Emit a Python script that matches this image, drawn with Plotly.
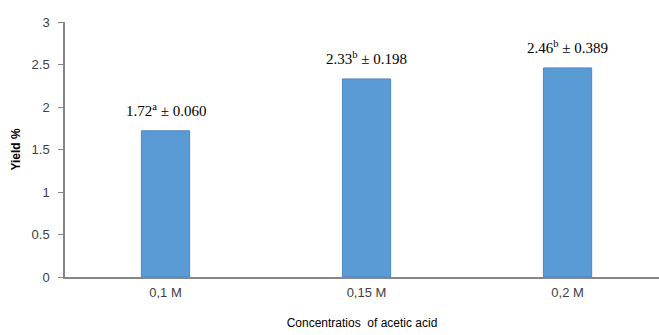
import plotly.graph_objects as go

categories = ["0,1 M", "0,15 M", "0,2 M"]
yield_pct = [1.72, 2.33, 2.46]
letters = ["a", "b", "b"]
sd = ["0.060", "0.198", "0.389"]
y_ticks = [0, 0.5, 1, 1.5, 2, 2.5, 3]
y_tick_text = ["0", "0.5", "1", "1.5", "2", "2.5", "3"]

sans = "Liberation Sans"
serif = "Liberation Serif"

fig = go.Figure()
fig.add_trace(go.Bar(
    x=categories, y=yield_pct,
    marker=dict(color="#5B9BD5", line=dict(color="#4A86C5", width=1)),
))

# value labels with significance letters and standard deviation
for cat, v, let, s in zip(categories, yield_pct, letters, sd):
    fig.add_annotation(
        x=cat, y=v, yref="y", xref="x",
        text=f"{v:.2f}<sup>{let}</sup> ± {s}",
        showarrow=False, yanchor="bottom", yshift=10,
        font=dict(family=serif, size=15, color="#000000"),
    )

fig.update_layout(
    width=659, height=335,
    margin=dict(l=65, r=0, t=22, b=58),
    paper_bgcolor="white", plot_bgcolor="white",
    bargap=0.76, showlegend=False,
    xaxis=dict(
        type="category", range=[-0.5, 2.455],
        showline=True, linecolor="#868686", linewidth=1.5,
        ticks="", showgrid=False, ticklabelstandoff=3,
        tickfont=dict(family=sans, size=13, color="#404040"),
        title=dict(text="Concentratios  of acetic acid", standoff=19,
                   font=dict(family=sans, size=12, color="#000000")),
    ),
    yaxis=dict(
        range=[0, 3], tickvals=y_ticks, ticktext=y_tick_text,
        showline=True, linecolor="#868686", linewidth=1.5,
        ticks="outside", ticklen=5, tickcolor="#868686",
        showgrid=False, zeroline=False, ticklabelstandoff=6,
        tickfont=dict(family=sans, size=13, color="#404040"),
        title=dict(text="<b>Yield %</b>", standoff=8,
                   font=dict(family=sans, size=12, color="#000000")),
    ),
)

fig.write_html("out.html")
